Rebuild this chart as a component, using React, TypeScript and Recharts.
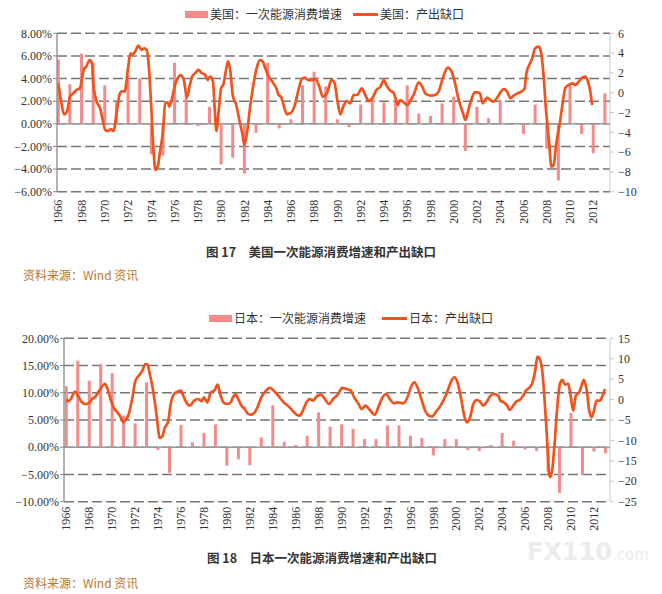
import React from 'react';
import { ComposedChart, Bar, Line, XAxis, YAxis, CartesianGrid, ReferenceLine } from 'recharts';

// 年份（柱子：年度一次能源消费增速）
const years = [
  1966, 1967, 1968, 1969, 1970, 1971, 1972, 1973, 1974, 1975, 1976, 1977,
  1978, 1979, 1980, 1981, 1982, 1983, 1984, 1985, 1986, 1987, 1988, 1989,
  1990, 1991, 1992, 1993, 1994, 1995, 1996, 1997, 1998, 1999, 2000, 2001,
  2002, 2003, 2004, 2005, 2006, 2007, 2008, 2009, 2010, 2011, 2012, 2013,
];
const yearTicks = [
  1966, 1968, 1970, 1972, 1974, 1976, 1978, 1980, 1982, 1984, 1986, 1988,
  1990, 1992, 1994, 1996, 1998, 2000, 2002, 2004, 2006, 2008, 2010, 2012,
];

// 美国：一次能源消费增速 (%)
const usEnergy = [
  5.7, 3.5, 6.2, 5.4, 3.4, 1.9, 4.3, 4.0, -2.7, -2.8, 5.4, 2.5,
  -0.2, 1.5, -3.6, -3.0, -4.4, -0.8, 5.4, -0.4, 0.4, 3.4, 4.6, 3.3,
  0.4, -0.3, 1.7, 2.2, 1.9, 2.0, 3.4, 0.9, 0.7, 1.8, 2.4, -2.4,
  1.5, 0.5, 2.1, 0.1, -0.9, 1.7, -2.2, -5.0, 3.4, -0.9, -2.6, 2.7,
];

// 美国：产出缺口（时间点 / 数值）
const usGapT = [
  1966.0, 1966.3, 1966.5, 1966.75, 1967.0, 1967.3, 1967.55, 1967.85, 1968.05, 1968.2,
  1968.4, 1968.7, 1968.9, 1969.0, 1969.3, 1969.6, 1969.85, 1970.05, 1970.3, 1970.5,
  1970.75, 1971.05, 1971.3, 1971.5, 1971.7, 1972.0, 1972.2, 1972.4, 1972.6, 1972.9,
  1973.15, 1973.4, 1973.6, 1973.8, 1974.0, 1974.2, 1974.35, 1974.55, 1974.75, 1975.0,
  1975.2, 1975.4, 1975.55, 1975.85, 1976.05, 1976.25, 1976.5, 1976.8, 1977.05, 1977.3,
  1977.5, 1977.8, 1978.07, 1978.35, 1978.64, 1978.84, 1979.07, 1979.3, 1979.45, 1979.6,
  1979.8, 1980.0, 1980.2, 1980.4, 1980.6, 1980.8, 1981.0, 1981.3, 1981.6, 1981.85,
  1982.0, 1982.2, 1982.5, 1982.8, 1983.05, 1983.35, 1983.55, 1983.8, 1984.1, 1984.4,
  1984.75, 1984.95, 1985.15, 1985.45, 1985.65, 1985.95, 1986.3, 1986.65, 1986.95, 1987.2,
  1987.5, 1987.8, 1988.1, 1988.4, 1988.75, 1989.1, 1989.5, 1989.75, 1990.0, 1990.25,
  1990.5, 1990.8, 1991.1, 1991.4, 1991.7, 1992.1, 1992.4, 1992.7, 1993.0, 1993.35,
  1993.7, 1994.0, 1994.2, 1994.5, 1994.85, 1995.2, 1995.4, 1995.7, 1996.0, 1996.3,
  1996.55, 1997.0, 1997.3, 1997.55, 1998.0, 1998.4, 1998.7, 1999.1, 1999.5, 1999.75,
  2000.05, 2000.4, 2000.8, 2001.0, 2001.3, 2001.6, 2001.85, 2002.05, 2002.25, 2002.5,
  2002.85, 2003.15, 2003.4, 2003.7, 2004.07, 2004.3, 2004.6, 2004.87, 2005.15, 2005.5,
  2005.9, 2006.1, 2006.25, 2006.5, 2006.7, 2007.0, 2007.3, 2007.5, 2007.7, 2007.95,
  2008.2, 2008.4, 2008.6, 2008.8, 2009.1, 2009.35, 2009.6, 2009.9, 2010.2, 2010.45,
  2010.75, 2011.0, 2011.3, 2011.5, 2011.75, 2011.9,
];
const usGap = [
  0.95, -1.24, -2.18, -1.9, -0.4, -0.06, 0.27, 0.44, 1.45, 2.36,
  2.63, 3.3, 2.97, 1.1, -0.9, -1.58, -2.93, -3.77, -3.87, -3.67,
  -3.87, -1.75, -0.06, 0.17, 0.1, 2.46, 3.98, 3.88, 4.15, 4.75,
  4.32, 4.48, 4.32, 2.46, -1.58, -5.96, -7.8, -7.47, -5.96, -3.94,
  -1.07, -0.97, -1.41, -0.23, 0.85, 1.4, 1.79, 1.28, -0.5, 0.7,
  1.6, 2.0, 2.3, 1.96, 1.79, 1.28, 1.62, 1.12, -1.58, -3.87,
  -1.75, 0.44, 0.85, 2.13, 3.2, 2.13, -0.23, -1.24, -2.93, -4.27,
  -5.28, -4.27, -1.41, 0.95, 2.46, 3.3, 3.2, 2.46, 1.62, 1.12,
  0.44, -0.23, -0.4, -1.58, -2.18, -2.08, -1.41, 0.27, 1.39, 1.52,
  1.28, 1.28, 1.39, 0.78, -0.4, -0.06, 1.3, 1.0, -0.8, -2.18,
  -1.41, -0.84, -1.07, -0.23, -0.23, 0.44, -0.23, -0.84, -0.57, 0.27,
  0.61, 1.28, 0.78, 0.27, -0.06, -1.24, -0.74, -0.97, -1.24, -0.74,
  -0.23, 1.05, 0.61, -0.06, -0.3, -0.23, 0.1, 1.62, 2.53, 2.3,
  1.28, -0.57, -2.08, -2.76, -1.58, -0.4, 0.05, 0.04, -0.06, -1.07,
  -0.5, -0.74, -0.9, -0.57, 0.1, 0.37, 0.1, -0.57, -0.3, -0.06,
  0.17, 0.44, 1.96, 2.8, 3.3, 4.48, 4.65, 4.15, 2.13, -1.92,
  -4.95, -7.47, -7.3, -5.28, -3.26, -1.24, 0.51, 0.78, 0.95, 0.78,
  1.12, 1.45, 1.62, 1.28, 0.1, -1.24,
];

// 日本：一次能源消费增速 (%)
const jpEnergy = [
  11.2, 15.9, 12.2, 15.3, 13.6, 5.8, 4.4, 11.9, -0.5, -4.7, 4.1, 0.9,
  2.6, 4.2, -3.4, -2.2, -3.3, 1.8, 7.7, 1.0, 0.4, 2.1, 6.4, 3.8,
  4.2, 3.4, 1.5, 1.5, 4.0, 4.0, 2.1, 1.7, -1.5, 1.5, 1.5, -0.5,
  -0.7, 0.4, 2.6, 1.2, -0.4, -0.7, -4.5, -8.4, 6.3, -5.1, -0.8, -1.1,
];

// 日本：产出缺口（时间点 / 数值）
const jpGapT = [
  1966.0, 1966.16, 1966.4, 1966.75, 1967.03, 1967.3, 1967.67, 1967.96, 1968.25, 1968.54,
  1968.78, 1969.07, 1969.36, 1969.6, 1969.9, 1970.2, 1970.46, 1970.75, 1970.96, 1971.16,
  1971.45, 1971.74, 1972.03, 1972.32, 1972.6, 1972.9, 1973.08, 1973.28, 1973.57, 1973.86,
  1974.15, 1974.36, 1974.58, 1974.88, 1975.1, 1975.39, 1975.7, 1975.98, 1976.2, 1976.46,
  1976.77, 1977.15, 1977.5, 1977.8, 1978.0, 1978.3, 1978.6, 1978.9, 1979.2, 1979.4,
  1979.7, 1979.96, 1980.25, 1980.54, 1980.75, 1980.98, 1981.27, 1981.56, 1981.85, 1982.14,
  1982.43, 1982.72, 1983.0, 1983.36, 1983.74, 1984.03, 1984.32, 1984.7, 1985.05, 1985.4,
  1985.78, 1986.07, 1986.36, 1986.65, 1986.94, 1987.23, 1987.52, 1987.81, 1988.19, 1988.54,
  1988.9, 1989.26, 1989.7, 1990.05, 1990.43, 1990.8, 1991.1, 1991.45, 1991.74, 1992.08,
  1992.46, 1992.9, 1993.25, 1993.6, 1993.9, 1994.2, 1994.58, 1994.93, 1995.37, 1995.75,
  1996.04, 1996.33, 1996.62, 1996.91, 1997.26, 1997.6, 1997.9, 1998.19, 1998.57, 1998.94,
  1999.24, 1999.58, 1999.82, 2000.1, 2000.4, 2000.69, 2000.92, 2001.18, 2001.47, 2001.76,
  2002.05, 2002.34, 2002.63, 2002.92, 2003.27, 2003.65, 2003.85, 2004.15, 2004.44, 2004.67,
  2004.96, 2005.25, 2005.54, 2005.83, 2006.06, 2006.35, 2006.65, 2006.88, 2007.08, 2007.28,
  2007.52, 2007.72, 2007.92, 2008.1, 2008.2, 2008.39, 2008.59, 2008.8, 2009.03, 2009.26,
  2009.46, 2009.76, 2009.99, 2010.19, 2010.42, 2010.72, 2010.92, 2011.12, 2011.35, 2011.59,
  2011.79, 2012.0, 2012.23, 2012.52, 2012.75, 2012.96,
];
const jpGap = [
  0.1, -0.43, 0.14, 1.94, 0.96, -0.43, -1.08, -0.92, 0.14, 0.71,
  1.78, 3.0, 3.82, 2.6, -0.27, -2.31, -3.12, -4.35, -5.57, -5.0,
  -3.53, 0.14, 4.63, 5.86, 6.92, 8.71, 8.55, 6.27, 2.18, -3.53,
  -9.41, -9.08, -6.96, -5.33, -1.08, 1.37, 1.94, 2.18, 0.96, -0.67,
  -1.49, -0.27, 0.14, -0.43, 0.55, -0.67, 1.78, 2.18, 3.65, 1.53,
  -0.67, -1.08, -0.92, 0.55, 1.37, 0.14, -1.49, -2.31, -3.53, -3.69,
  -3.12, -1.49, 0.55, 2.02, 2.84, 2.35, 1.53, 0.14, -0.92, -1.73,
  -2.88, -3.69, -3.94, -2.55, -0.67, 0.14, -0.27, 0.71, 1.2, 0.14,
  -1.08, 0.14, 1.37, 2.84, 2.6, 2.18, 0.55, -0.92, -2.31, -1.49,
  -2.55, -3.69, -1.49, 0.71, 1.37, 0.14, -0.92, -0.67, -0.92, 0.55,
  3.0, 4.22, 3.0, 0.55, -2.55, -3.94, -4.18, -3.12, -1.73, 0.14,
  2.18, 4.63, 5.45, 4.22, 0.55, -3.94, -5.57, -4.6, -1.2, -0.1,
  -0.43, -1.49, -0.67, 0.71, 1.37, 0.96, -0.27, -0.67, -1.49, -2.55,
  -1.49, -0.43, -0.1, 0.96, 2.18, 2.84, 4.22, 7.08, 10.51, 9.94,
  6.27, -1.08, -10.06, -18.2, -19.0, -16.6, -10.06, -1.9, 3.82, 4.8,
  3.65, 3.82, 0.55, -2.71, 0.96, 1.78, 3.4, 4.8, 2.6, -2.71,
  -4.35, -2.71, -0.27, -0.27, 0.96, 2.6,
];

const usLeftTicks = [-6, -4, -2, 0, 2, 4, 6, 8];
const usRightTicks = [-10, -8, -6, -4, -2, 0, 2, 4, 6];
const jpLeftTicks = [-10, -5, 0, 5, 10, 15, 20];
const jpRightTicks = [-25, -20, -15, -10, -5, 0, 5, 10, 15];

const BAR = '#f48b8b';
const LINE = '#f2521b';
const GRID = '#767676';
const SERIF = '"Liberation Serif", "Times New Roman", serif';
const CJK = '"Noto Sans CJK SC", sans-serif';

const minus = (s: string) => s.replace('-', '\u2212');

const buildRows = (energy: number[], gapT: number[], gap: number[]) => {
  const rows: any[] = years.map((y, i) => ({ t: y, energy: energy[i] }));
  gapT.forEach((t, i) => rows.push({ t, gap: gap[i] }));
  return rows.sort((a, b) => a.t - b.t);
};

// 细柱：以库算出的柱中心为准，固定宽度 3px
const ThinBar = (p: any) => {
  if (p.value == null || !p.height) return <g />;
  const cx = p.x + p.width / 2;
  const top = Math.min(p.y, p.y + p.height);
  return <rect x={cx - 1.5} y={top} width={3} height={Math.abs(p.height)} fill={BAR} />;
};

const YearTick = ({ x, y, payload }: any) => (
  <text
    x={x}
    y={y}
    transform={`rotate(-90 ${x} ${y})`}
    textAnchor="end"
    dy="0.35em"
    fontSize={12}
    fill="#333"
    style={{ fontFamily: SERIF }}
  >
    {payload.value}
  </text>
);

const SideTick = ({ x, y, payload, textAnchor, fmt }: any) => (
  <text x={x} y={y} dy="0.35em" textAnchor={textAnchor} fontSize={12} fill="#333" style={{ fontFamily: SERIF }}>
    {fmt(payload.value)}
  </text>
);

interface GapChartProps {
  rows: any[];
  height: number;
  top: number;
  bottom: number;
  leftWidth: number;
  xDomain: [number, number];
  leftTicks: number[];
  rightTicks: number[];
  labelGap: number;
}

function GapChart({ rows, height, top, bottom, leftWidth, xDomain, leftTicks, rightTicks, labelGap }: GapChartProps) {
  const pct = (v: number) => minus(v.toFixed(2)) + '%';
  const num = (v: number) => minus(String(v));
  return (
    <ComposedChart width={662} height={height} data={rows} margin={{ top, right: 0, bottom, left: 0 }}>
      <CartesianGrid yAxisId="l" vertical={false} stroke={GRID} strokeDasharray="10 4" strokeWidth={1.5} />
      <XAxis
        dataKey="t"
        type="number"
        domain={xDomain}
        allowDataOverflow
        ticks={yearTicks}
        interval={0}
        height={40}
        axisLine={false}
        tickLine={false}
        tickSize={0}
        tickMargin={labelGap}
        tick={(p: any) => <YearTick {...p} />}
      />
      <YAxis
        yAxisId="l"
        width={leftWidth}
        domain={[leftTicks[0], leftTicks[leftTicks.length - 1]]}
        ticks={leftTicks}
        allowDataOverflow
        interval={0}
        tick={(p: any) => <SideTick {...p} fmt={pct} />}
        axisLine={{ stroke: '#8a8a8a', strokeWidth: 1.3 }}
        tickLine={{ stroke: '#8a8a8a' }}
        tickSize={4}
        tickMargin={1}
      />
      <YAxis
        yAxisId="r"
        orientation="right"
        width={52}
        domain={[rightTicks[0], rightTicks[rightTicks.length - 1]]}
        ticks={rightTicks}
        allowDataOverflow
        interval={0}
        tick={(p: any) => <SideTick {...p} fmt={num} />}
        axisLine={{ stroke: '#c3cad2' }}
        tickLine={{ stroke: '#c3cad2' }}
        tickSize={4}
        tickMargin={4}
      />
      <ReferenceLine yAxisId="l" y={0} stroke="#9a9a9a" strokeWidth={1.4} />
      <Bar yAxisId="l" dataKey="energy" fill={BAR} shape={ThinBar} isAnimationActive={false} />
      <Line
        yAxisId="r"
        dataKey="gap"
        type="monotone"
        stroke={LINE}
        strokeWidth={2.7}
        dot={false}
        connectNulls
        isAnimationActive={false}
      />
    </ComposedChart>
  );
}

const abs = (left: number, top: number, extra: React.CSSProperties = {}): React.CSSProperties => ({
  position: 'absolute',
  left,
  top,
  ...extra,
});

function LegendRow({ top, barLeft, barText, lineLeft, lineText }: any) {
  const text: React.CSSProperties = { fontFamily: CJK, fontSize: 12, color: '#333', lineHeight: '14px', whiteSpace: 'nowrap' };
  return (
    <>
      <div style={abs(barLeft, top - 3, { width: 23, height: 7, background: BAR })} />
      <div style={abs(barLeft + 25, top - 7, text)}>{barText}</div>
      <div style={abs(lineLeft, top - 1, { width: 25, height: 3, background: LINE })} />
      <div style={abs(lineLeft + 27, top - 7, text)}>{lineText}</div>
    </>
  );
}

export default function App() {
  const usRows = buildRows(usEnergy, usGapT, usGap);
  const jpRows = buildRows(jpEnergy, jpGapT, jpGap);
  const caption: React.CSSProperties = {
    fontFamily: CJK,
    fontSize: 12.5,
    fontWeight: 700,
    color: '#333',
    whiteSpace: 'nowrap',
    lineHeight: '16px',
  };
  const source: React.CSSProperties = {
    fontFamily: CJK,
    fontSize: 12,
    color: '#b8762f',
    whiteSpace: 'nowrap',
    lineHeight: '16px',
  };
  return (
    <div style={{ position: 'absolute', left: 0, top: 0, width: 662, height: 594, background: '#fff', overflow: 'hidden' }}>
      <LegendRow top={14} barLeft={185} barText="美国：一次能源消费增速" lineLeft={353} lineText="美国：产出缺口" />
      <div style={abs(0, 0)}>
        <GapChart
          rows={usRows}
          height={240}
          top={33.3}
          bottom={8.3}
          leftWidth={57}
          xDomain={[1965.89, 2013.44]}
          leftTicks={usLeftTicks}
          rightTicks={usRightTicks}
          labelGap={8}
        />
      </div>
      <div style={abs(206, 244, caption)}>图 17　美国一次能源消费增速和产出缺口</div>
      <div style={abs(23, 267, source)}>资料来源：Wind 资讯</div>

      <LegendRow top={318} barLeft={209} barText="日本：一次能源消费增速" lineLeft={382} lineText="日本：产出缺口" />
      <div style={abs(0, 300)}>
        <GapChart
          rows={jpRows}
          height={250}
          top={38.3}
          bottom={8.3}
          leftWidth={64}
          xDomain={[1965.8, 2013.4]}
          leftTicks={jpLeftTicks}
          rightTicks={jpRightTicks}
          labelGap={5}
        />
      </div>
      <div style={abs(207, 550, caption)}>图 18　日本一次能源消费增速和产出缺口</div>
      <div style={abs(23, 575, source)}>资料来源：Wind 资讯</div>

      <div style={abs(527, 538, { fontFamily: '"DejaVu Sans", sans-serif', fontWeight: 700, fontSize: 24, color: '#ececec', whiteSpace: 'nowrap' })}>
        FX110<span style={{ fontSize: 15, fontWeight: 400 }}>.com</span>
      </div>
    </div>
  );
}
